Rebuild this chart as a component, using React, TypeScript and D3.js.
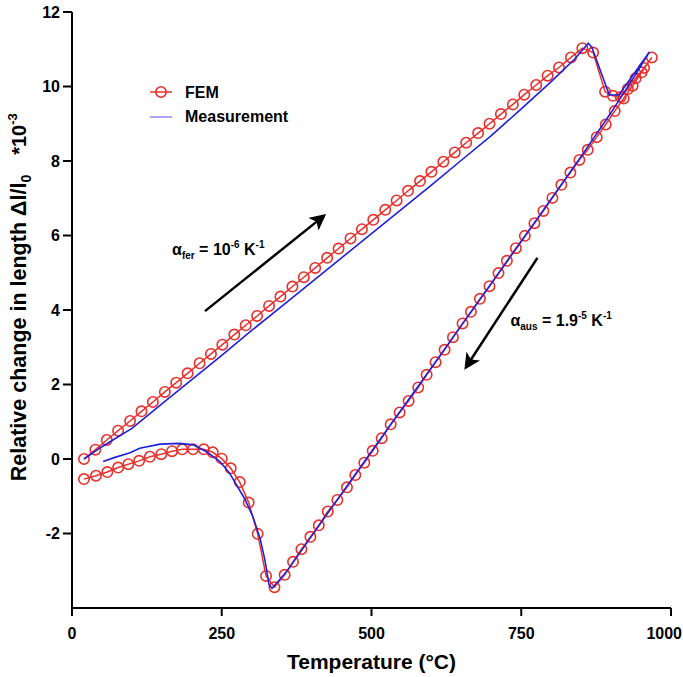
import React from "react";
import * as d3 from "d3";

// FEM simulation: heating branch [temperature °C, Δl/l0 *10^-3]
const femHeating: [number, number][] = [
  [20, -0.54], [40, -0.45], [59, -0.35], [77, -0.23], [94, -0.14], [112, -0.05],
  [130, 0.06], [149, 0.13], [167, 0.21], [184, 0.26], [202, 0.26], [220, 0.26],
  [235, 0.18], [250, 0.01], [265, -0.25], [280, -0.62], [295, -1.17], [310, -2.01],
  [324, -3.14], [338, -3.44], [355, -3.11], [369, -2.76], [383, -2.42], [398, -2.09],
  [412, -1.78], [427, -1.41], [443, -1.1], [459, -0.76], [473, -0.43], [488, -0.1],
  [502, 0.22], [517, 0.56], [532, 0.93], [547, 1.25], [562, 1.56], [578, 1.92],
  [592, 2.26], [607, 2.6], [622, 2.93], [636, 3.27], [652, 3.64], [666, 3.95],
  [681, 4.3], [697, 4.64], [712, 4.99], [726, 5.32], [741, 5.66], [756, 5.99],
  [772, 6.33], [787, 6.66], [802, 7.01], [817, 7.36], [832, 7.69], [847, 8.03],
  [861, 8.3], [876, 8.64], [891, 8.98], [906, 9.34], [921, 9.68], [936, 10.02],
  [951, 10.38], [968, 10.78],
];

// FEM simulation: cooling branch
const femCooling: [number, number][] = [
  [955, 10.5], [941, 10.22], [928, 9.93], [916, 9.72], [903, 9.75], [890, 9.86],
  [870, 10.91], [852, 11.03], [833, 10.78], [813, 10.51], [794, 10.29], [775, 10.04],
  [755, 9.78], [736, 9.52], [716, 9.26], [697, 9.0], [678, 8.75], [658, 8.49],
  [639, 8.23], [620, 7.98], [600, 7.71], [581, 7.46], [561, 7.2], [542, 6.94],
  [523, 6.69], [503, 6.42], [484, 6.17], [465, 5.92], [445, 5.65], [426, 5.4],
  [406, 5.13], [387, 4.88], [368, 4.63], [348, 4.36], [329, 4.11], [309, 3.84],
  [290, 3.59], [271, 3.34], [251, 3.07], [232, 2.82], [213, 2.57], [193, 2.3],
  [174, 2.05], [155, 1.8], [135, 1.53], [116, 1.28], [97, 1.02], [77, 0.76],
  [58, 0.51], [39, 0.25], [20, 0.0],
];

// dilatometer measurement: heating then cooling
const measHeating: [number, number][] = [
  [52, -0.07], [69, 0.03], [97, 0.17], [113, 0.29], [147, 0.4], [180, 0.42],
  [202, 0.38], [224, 0.2], [247, -0.07], [263, -0.38], [288, -1.06], [302, -1.55],
  [314, -2.13], [322, -2.71], [329, -3.38], [334, -3.47], [344, -3.29], [358, -3.03],
  [400, -2.07], [450, -0.93], [500, 0.2], [550, 1.33], [600, 2.45], [650, 3.58],
  [700, 4.71], [750, 5.84], [800, 6.98], [850, 8.12], [900, 9.3], [940, 10.3],
  [964, 10.93],
];

const measCooling: [number, number][] = [
  [913, 9.77], [897, 9.77], [868, 11.05], [862, 11.16], [840, 10.75], [800, 10.13],
  [750, 9.4], [700, 8.68], [650, 8.02], [600, 7.35], [550, 6.7], [500, 6.05],
  [450, 5.4], [400, 4.75], [350, 4.1], [300, 3.45], [250, 2.78], [200, 2.13],
  [150, 1.48], [100, 0.82], [50, 0.33], [20, 0.0],
];

const xTicks = [0, 250, 500, 750, 1000];
const yTicks = [-2, 0, 2, 4, 6, 8, 10, 12];

// arrows in data coordinates: [fromT, fromV, toT, toV]
const arrows: [number, number, number, number][] = [
  [222, 3.97, 420, 6.52],
  [777, 5.4, 658, 2.47],
];

const RED = "#e8302c";
const BLUE = "#2020dc";
const FONT = "'Liberation Sans', Arial, Helvetica, sans-serif";

export default function App() {
  const width = 683;
  const height = 677;

  const x = d3.scaleLinear().domain([0, 1000]).range([72, 671]);
  const y = d3.scaleLinear().domain([-4, 12]).range([608, 12]);

  const line = d3
    .line<[number, number]>()
    .x((d) => x(d[0]))
    .y((d) => y(d[1]));

  const femAll = [...femHeating, ...femCooling];
  const measAll = [...measHeating, ...measCooling];

  return (
    <svg
      width={width}
      height={height}
      style={{ position: "absolute", left: 0, top: 0, background: "#fff" }}
      fontFamily={FONT}
    >
      <defs>
        <marker
          id="head"
          viewBox="0 0 10 10"
          refX="8"
          refY="5"
          markerWidth="6.5"
          markerHeight="6.5"
          orient="auto"
        >
          <path d="M0,0 L10,5 L0,10 L2.5,5 Z" fill="#000" />
        </marker>
      </defs>

      {/* FEM line + markers */}
      <path d={line(femAll) ?? ""} fill="none" stroke={RED} strokeWidth={1.5} />
      {femAll.map((d, i) => (
        <circle
          key={i}
          cx={x(d[0])}
          cy={y(d[1])}
          r={5.2}
          fill="none"
          stroke={RED}
          strokeWidth={1.6}
        />
      ))}

      {/* measurement */}
      <path d={line(measAll) ?? ""} fill="none" stroke={BLUE} strokeWidth={1.6} />

      {/* axes */}
      <line x1={x(0)} x2={x(0)} y1={y(-4)} y2={y(12)} stroke="#000" strokeWidth={2} />
      <line x1={x(0) - 1} x2={x(1000)} y1={y(-4)} y2={y(-4)} stroke="#000" strokeWidth={2} />
      {yTicks.map((t) => (
        <g key={"y" + t}>
          <line x1={x(0) - 9} x2={x(0)} y1={y(t)} y2={y(t)} stroke="#000" strokeWidth={2} />
          <text
            x={x(0) - 12}
            y={y(t)}
            dy="0.36em"
            textAnchor="end"
            fontSize={16}
            fontWeight="bold"
          >
            {t}
          </text>
        </g>
      ))}
      {xTicks.map((t, i) => (
        <g key={"x" + t}>
          <line x1={x(t)} x2={x(t)} y1={y(-4)} y2={y(-4) + 8} stroke="#000" strokeWidth={2} />
          <text
            x={i === xTicks.length - 1 ? width - 1 : x(t)}
            y={y(-4) + 31}
            textAnchor={i === xTicks.length - 1 ? "end" : "middle"}
            fontSize={16}
            fontWeight="bold"
          >
            {t}
          </text>
        </g>
      ))}

      {/* axis titles */}
      <text
        x={(x(0) + x(1000)) / 2}
        y={669}
        textAnchor="middle"
        fontSize={21}
        fontWeight="bold"
      >
        Temperature (°C)
      </text>
      <text
        transform="translate(26,328) rotate(-90)"
        textAnchor="middle"
        fontSize={21.5}
        fontWeight="bold"
      >
        Relative change in length Δl/l
        <tspan fontSize={14} dy={5}>0</tspan>
      </text>
      <text
        transform="translate(26,134) rotate(-90)"
        textAnchor="middle"
        fontSize={20}
        fontWeight="bold"
      >
        *10
        <tspan fontSize={13} dy={-9}>-3</tspan>
      </text>

      {/* legend */}
      <line x1={150} x2={172} y1={92} y2={92} stroke={RED} strokeWidth={1.5} />
      <circle cx={161} cy={92} r={5.2} fill="none" stroke={RED} strokeWidth={1.6} />
      <text x={185} y={98} fontSize={16} fontWeight="bold">FEM</text>
      <line x1={150} x2={172} y1={117} y2={117} stroke={BLUE} strokeWidth={1.2} opacity={0.65} />
      <text x={185} y={122} fontSize={16} fontWeight="bold">Measurement</text>

      {/* annotations */}
      {arrows.map((a, i) => (
        <line
          key={"a" + i}
          x1={x(a[0])}
          y1={y(a[1])}
          x2={x(a[2])}
          y2={y(a[3])}
          stroke="#000"
          strokeWidth={2.5}
          markerEnd="url(#head)"
        />
      ))}
      <text x={x(167)} y={y(5.48)} fontSize={16} fontWeight="bold">
        α<tspan fontSize={10} dy={4}>fer</tspan>
        <tspan dy={-4}> = 10</tspan>
        <tspan fontSize={10} dy={-7}>-6</tspan>
        <tspan dy={7}> K</tspan>
        <tspan fontSize={10} dy={-7}>-1</tspan>
      </text>
      <text x={x(732)} y={y(3.57)} fontSize={16} fontWeight="bold">
        α<tspan fontSize={10} dy={4}>aus</tspan>
        <tspan dy={-4}> = 1.9</tspan>
        <tspan fontSize={10} dy={-7}>-5</tspan>
        <tspan dy={7}> K</tspan>
        <tspan fontSize={10} dy={-7}>-1</tspan>
      </text>
    </svg>
  );
}
